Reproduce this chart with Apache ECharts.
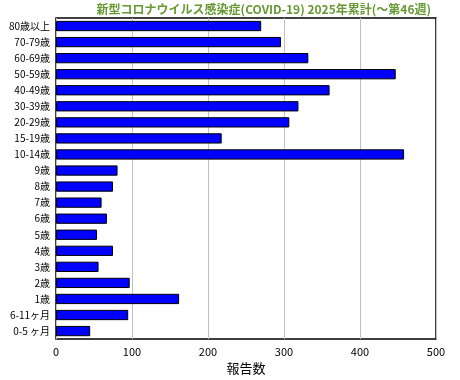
<!DOCTYPE html>
<html><head><meta charset="utf-8">
<script src="https://cdn.jsdelivr.net/npm/echarts@6/dist/echarts.min.js"></script>
<style>html,body{margin:0;padding:0;background:#fff}#c{width:460px;height:380px}</style>
</head><body><div id="c"></div>
<script>
const categories = ["80歳以上","70-79歳","60-69歳","50-59歳","40-49歳","30-39歳","20-29歳","15-19歳","10-14歳","9歳","8歳","7歳","6歳","5歳","4歳","3歳","2歳","1歳","6-11ヶ月","0-5 ヶ月"];
const values = [270,296,332,447,360,319,307,218,458,81,75,60,67,54,75,56,97,162,95,45];
const xTicks = [0,100,200,300,400,500];
const titleText = "新型コロナウイルス感染症(COVID-19) 2025年累計(～第46週)";
const font = "'Noto Sans CJK JP', sans-serif";
const chart = echarts.init(document.getElementById('c'), null, {renderer:'canvas'});
chart.setOption({
  animation:false,
  title:{text:titleText, right:24, top:-2, textStyle:{color:'#669933', fontSize:12, fontWeight:'bold', fontFamily:font}},
  grid:{left:56, right:24, top:18, bottom:37, show:true, borderColor:'#000', borderWidth:1.5, containLabel:false},
  xAxis:{type:'value', min:xTicks[0], max:xTicks[xTicks.length-1], interval:100,
    name:'報告数', nameLocation:'middle', nameGap:20, nameTextStyle:{fontSize:13, color:'#000', fontFamily:font},
    axisLine:{show:false}, axisTick:{show:false},
    axisLabel:{color:'#000', fontSize:11, margin:7, fontFamily:font},
    splitLine:{show:true, lineStyle:{color:'#c0c0c0', width:1}}},
  yAxis:{type:'category', data:categories, inverse:true,
    axisLine:{show:false}, axisTick:{show:false},
    axisLabel:{color:'#000', fontSize:10, margin:6, fontFamily:font}},
  series:[{type:'bar', data:values, barCategoryGap:'36%',
    itemStyle:{color:'#0000ff', borderColor:'#000', borderWidth:1}}]
});
</script></body></html>
